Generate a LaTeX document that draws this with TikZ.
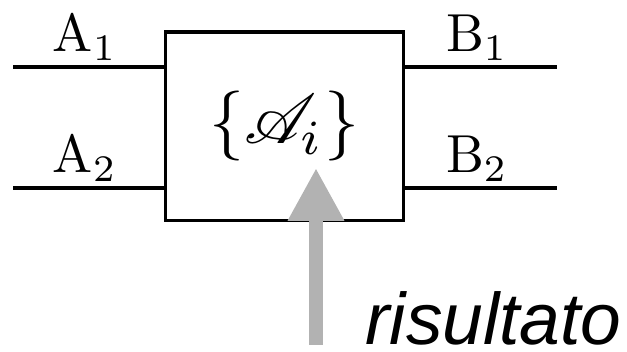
\documentclass[tikz,border=0pt]{standalone}
\usepackage{amsmath, amssymb}
\usepackage{graphicx}
\DeclareFontFamily{U}{rsfs}{\skewchar\font127 }
\DeclareFontShape{U}{rsfs}{m}{n}{<-6> rsfs5 <6-8> rsfs7 <8-> rsfs10}{}
\usepackage{mathrsfs}
\usepackage{fontspec}
\newfontfamily\risfont{Liberation Sans}
\usepackage{tikz}
\usetikzlibrary{positioning, arrows.meta}

\tikzset{
    lbl/.style={anchor=base, inner sep=0pt, font=\normalsize},
    porta/.style={line width=1.2pt},
}
\newcommand{\grande}[2]{\scalebox{#1}{#2}}

\begin{document}
\begin{tikzpicture}[x=0.01365cm, y=-0.01365cm, line width=1.2pt]
    \useasboundingbox (0,0) rectangle (627,352);

    % Scatola centrale
    \node[draw, minimum width=3.262cm, minimum height=2.580cm, inner sep=0pt,
        font=\normalsize] (box) at (284.5,126.5) {\grande{2.72}{$\{\mathscr{A}_i\}$}};

    % Ingressi e uscite
    \coordinate (a1) at (13,67);
    \coordinate (a2) at (13,188);
    \coordinate (b1) at (557,67);
    \coordinate (b2) at (557,188);
    \draw[porta] (a1) -- (a1 -| box.west);
    \draw[porta] (a2) -- (a2 -| box.west);
    \draw[porta] (box.east |- b1) -- (b1);
    \draw[porta] (box.east |- b2) -- (b2);

    \node[lbl] (A1) at (85,52) {\grande{2.08}{$\mathrm{A}_1$}};
    \node[lbl] (A2) at (85,173) {\grande{2.08}{$\mathrm{A}_2$}};
    \node[lbl] (B1) at (477,52) {\grande{2.08}{$\mathrm{B}_1$}};
    \node[lbl] (B2) at (477,173) {\grande{2.08}{$\mathrm{B}_2$}};

    % Freccia del risultato
    \coordinate (res) at (316,345);
    \coordinate (tip) at (316,168);
    \draw[gray!60, line width=5.46pt, -{Triangle[width=20.5pt, length=20.5pt]}] (res) -- (tip);
    \node[anchor=base west, inner sep=0pt, font=\risfont\itshape\fontsize{28.4}{33}\selectfont]
        (ris) at (364,345) {risultato};
\end{tikzpicture}
\end{document}
